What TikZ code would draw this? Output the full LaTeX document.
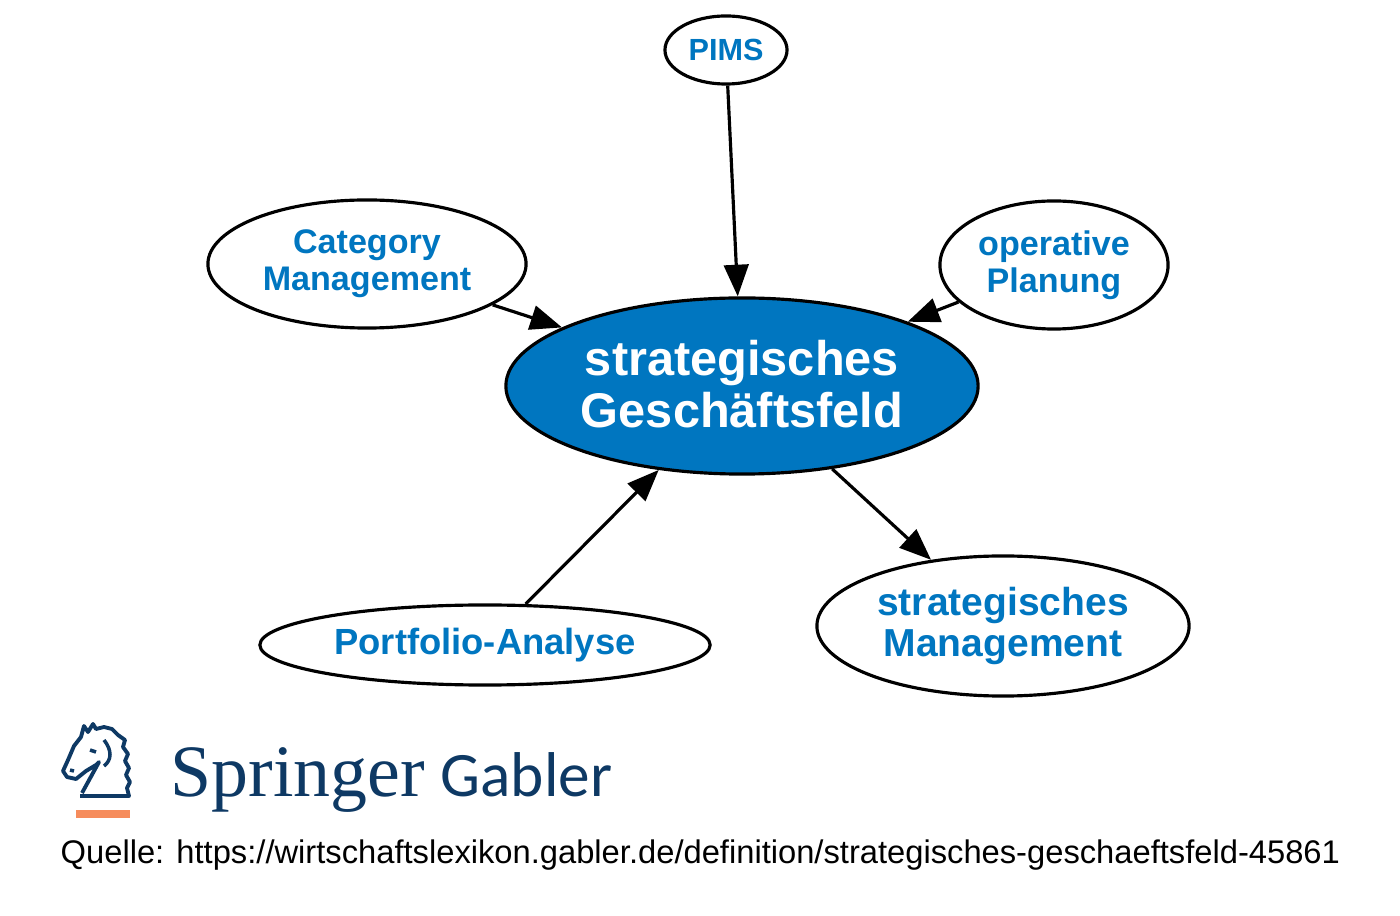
\documentclass[tikz,border=0pt]{standalone}
\usepackage{fontspec}
\setmainfont{Liberation Sans}
\newfontfamily\logoserif{Liberation Serif}
\newfontfamily\logosans{Carlito}
\usetikzlibrary{shapes.geometric,arrows.meta}
\definecolor{sgfblue}{RGB}{0,118,192}
\definecolor{springerblue}{RGB}{14,57,100}
\definecolor{springerorange}{RGB}{246,140,92}
\tikzset{
  term/.style={ellipse,draw,line width=0.9pt,inner sep=0pt,align=center,
    text=sgfblue,font=\bfseries},
  link/.style={line width=0.9pt,-{Triangle[length=9pt,width=7pt]}}
}
\begin{document}
\begin{tikzpicture}[x=0.01cm,y=-0.01cm]
  \useasboundingbox (0,0) rectangle (1400,916);
  %%%%%%%%%%%%%The centre%%%%%%%%%%%%%%%%%%%%%%
  \node[term,fill=sgfblue,text=white,minimum width=4.72cm,minimum height=1.76cm,
    font=\bfseries\fontsize{13.85}{14.8}\selectfont] (sgf) at (742,386)
    {\raisebox{1pt}{strategisches}\\\raisebox{1pt}{Geschäftsfeld}};

  %%%%%%%%%%%%%The terms around it%%%%%%%%%%%%%%%%%%%%%%
  \node[term,minimum width=1.22cm,minimum height=0.68cm,
    font=\bfseries\fontsize{8.7}{10}\selectfont] (pims) at (726,50) {PIMS};
  \node[term,minimum width=3.18cm,minimum height=1.28cm,
    font=\bfseries\fontsize{9.7}{10.5}\selectfont] (catman) at (367,264)
    {Category\\Management};
  \node[term,minimum width=2.28cm,minimum height=1.28cm,
    font=\bfseries\fontsize{9.7}{10.5}\selectfont] (opplan) at (1054,265)
    {operative\\Planung};
  \node[term,minimum width=4.5cm,minimum height=0.8cm,
    font=\bfseries\fontsize{10.35}{11}\selectfont] (portf) at (485,645)
    {Portfolio-Analyse};
  \node[term,minimum width=3.72cm,minimum height=1.4cm,
    font=\bfseries\fontsize{11.1}{11.7}\selectfont] (stratman) at (1003,626)
    {strategisches\\Management};

  \draw[link] (pims) -- (sgf);
  \draw[link] (catman) -- (sgf);
  \draw[link] (opplan) -- (sgf);
  \draw[link] (portf) -- (sgf);
  \draw[link] (sgf) -- (stratman);

  %%%%%%%%%%%%%The logo%%%%%%%%%%%%%%%%%%%%%%
  \draw[springerblue,line width=1.1pt,line join=round]
    (80,796) -- (129,796) -- (127,788) -- (130,782) -- (126,775) -- (129,768)
    -- (125,761) -- (128,754) -- (123,747) -- (125,740) -- (118,735) -- (112,729)
    -- (104,727) -- (96,729) -- (93,724) -- (88,732) -- (84,726) -- (81,737)
    -- (74,746) -- (68,760) -- (63,771) -- (67,777) -- (76,779) -- (86,771)
    -- (96,765) -- (99,762) -- (82,793);
  \draw[springerblue,line width=1pt] (90,750) -- (96,752) (70,770) -- (74,771);
  \draw[springerblue,line width=1pt] (104,740) .. controls (112,750) and (112,760) .. (104,766);
  \fill[springerorange] (76,810) rectangle (130,818);
  \node[springerblue,anchor=base west,inner sep=0pt,
    font=\logoserif\fontsize{21}{21}\selectfont] (springer) at (170,797) {Springer};
  \node[springerblue,anchor=base west,inner sep=0pt,
    font=\logosans\fontsize{18}{18}\selectfont] (gabler) at (440,797) {Gabler};

  %%%%%%%%%%%%%The source%%%%%%%%%%%%%%%%%%%%%%
  \node[anchor=west,inner sep=0pt,font=\fontsize{9.3}{10}\selectfont] (quelle) at (60,855)
    {Quelle: https://wirtschaftslexikon.gabler.de/definition/strategisches-geschaeftsfeld-45861};
\end{tikzpicture}
\end{document}
